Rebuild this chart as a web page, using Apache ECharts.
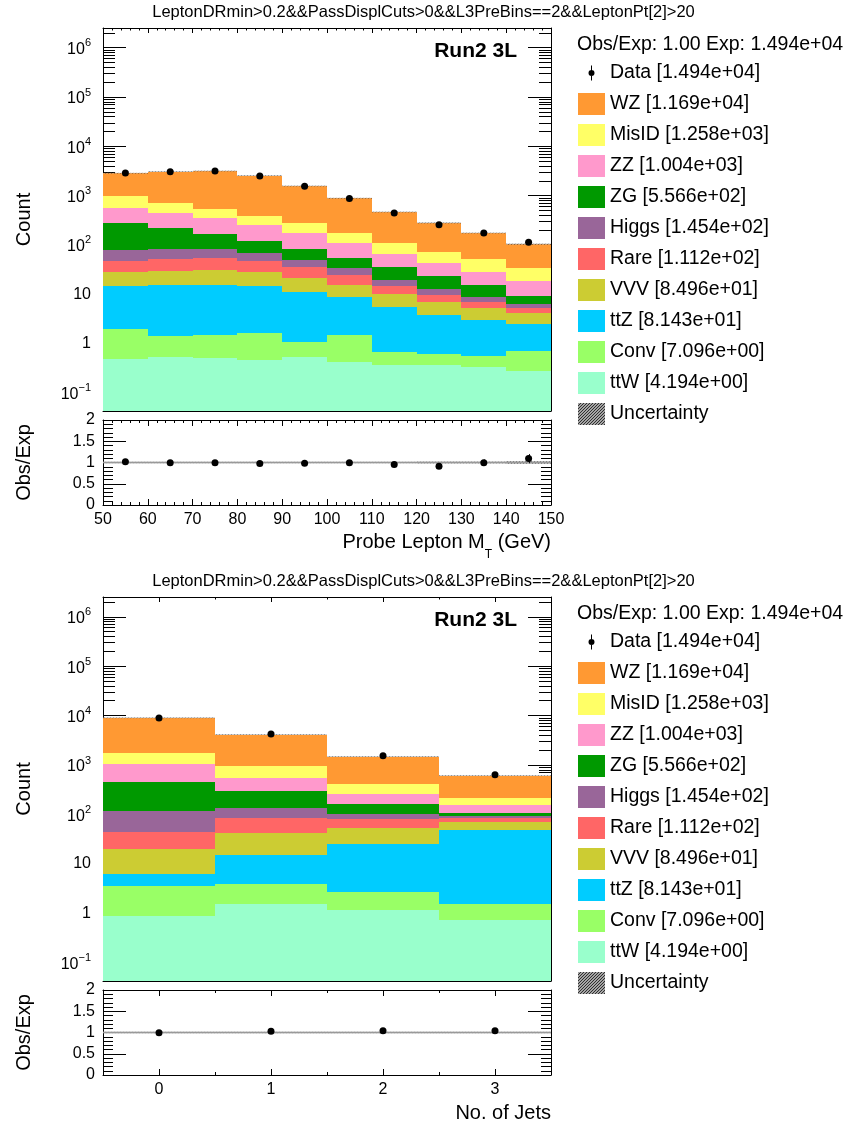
<!DOCTYPE html>
<html><head><meta charset="utf-8">
<script src="https://cdn.jsdelivr.net/npm/echarts@6/dist/echarts.min.js"></script>
<style>html,body{margin:0;padding:0;background:#fff}#c{width:847px;height:1129px}</style>
</head><body><div id="c"></div>
<script>
// ---------------- data ----------------
const cutTitle = 'LeptonDRmin>0.2&&PassDisplCuts>0&&L3PreBins==2&&LeptonPt[2]>20';
const regionLabel = 'Run2 3L';
const obsExpText = 'Obs/Exp: 1.00 Exp: 1.494e+04';
const processNames = ['WZ', 'MisID', 'ZZ', 'ZG', 'Higgs', 'Rare', 'VVV', 'ttZ', 'Conv', 'ttW'];
const processTotals = ['1.169e+04', '1.258e+03', '1.004e+03', '5.566e+02', '1.454e+02', '1.112e+02', '8.496e+01', '8.143e+01', '7.096e+00', '4.194e+00'];
const dataTotal = '1.494e+04';

// Probe lepton MT (GeV), bin edges
const mtEdges = [50, 60, 70, 80, 90, 100, 110, 120, 130, 140, 150];
const mtWZ    = [1854, 2350, 2624, 2161, 1289, 707, 357, 208, 123, 69];
const mtMisID = [432, 269, 193, 128, 106, 66, 43, 29, 23.3, 16.1];
const mtZZ    = [274, 232, 183, 137, 94, 57, 31.5, 20, 13.6, 8.9];
const mtZG    = [199, 139, 87, 52, 34.7, 21.4, 15.4, 10.7, 6.2, 2.9];
const mtHiggs = [32.4, 28.9, 28.4, 21.8, 14.4, 8.6, 4.9, 2.9, 2.0, 1.1];
const mtRare  = [19.8, 22.7, 23.4, 19.8, 13.8, 9.2, 4.8, 2.8, 1.7, 1.2];
const mtVVV   = [13.4, 14.7, 15.5, 13.6, 10.2, 6.7, 4.7, 3.1, 2.2, 1.55];
const mtTTZ   = [13.0, 14.1, 14.2, 13.1, 10.2, 7.3, 4.8, 3.1, 2.5, 1.8];
const mtConv  = [1.48, 0.86, 0.97, 1.20, 0.55, 1.09, 0.30, 0.26, 0.22, 0.43];
const mtTTW   = [0.48, 0.53, 0.50, 0.47, 0.53, 0.43, 0.36, 0.36, 0.34, 0.28];
const mtData  = [2885, 3047, 3145, 2487, 1548, 878, 445, 255, 174, 113];
const mtUncRel = [0.01, 0.01, 0.01, 0.01, 0.01, 0.012, 0.02, 0.025, 0.025, 0.035];
const mtAxisTitle = ['Probe Lepton M', 'T', ' (GeV)'];

// Number of jets, bin edges
const njEdges = [-0.5, 0.5, 1.5, 2.5, 3.5];
const njWZ    = [7254, 3194, 1076, 393];
const njMisID = [691, 397, 152, 66];
const njZZ    = [622, 250, 95, 47];
const njZG    = [333, 162, 59, 12.7];
const njHiggs = [72.5, 52, 19.6, 8.4];
const njRare  = [23.5, 43.3, 29.9, 14.4];
const njVVV   = [13.9, 26.7, 26.9, 22.0];
const njTTZ   = [2.62, 11.05, 23.0, 47.0];
const njConv  = [2.63, 2.29, 1.50, 0.79];
const njTTW   = [0.88, 1.56, 1.15, 0.72];
const njData  = [8944, 4264, 1543, 636];
const njUncRel = [0.01, 0.01, 0.015, 0.02];
const njAxisTitle = 'No. of Jets';

// ---------------- styling ----------------
const FONT = '"Liberation Sans", Arial, Helvetica, sans-serif';
const processColors = ['#ff9933', '#ffff66', '#ff99cc', '#009900', '#996699', '#ff6666', '#cccc33', '#00ccff', '#99ff66', '#99ffcc'];
const Y_MIN = 0.0427, Y_MAX = 2.512e6;

const mtProcs = [mtWZ, mtMisID, mtZZ, mtZG, mtHiggs, mtRare, mtVVV, mtTTZ, mtConv, mtTTW];
const njProcs = [njWZ, njMisID, njZZ, njZG, njHiggs, njRare, njVVV, njTTZ, njConv, njTTW];

const legendName = i => processNames[i] + ' [' + processTotals[i] + ']';
const dataName = 'Data [' + dataTotal + ']';
const uncName = 'Uncertainty';

const hatch = document.createElement('canvas');
hatch.width = 3; hatch.height = 3;
(function () {
  const c = hatch.getContext('2d');
  c.fillStyle = '#d8d8d8'; c.fillRect(0, 0, 3, 3);
  c.strokeStyle = '#262626'; c.lineWidth = 1.1;
  c.beginPath();
  c.moveTo(-1, 4); c.lineTo(4, -1);
  c.moveTo(-1, 1); c.lineTo(1, -1);
  c.moveTo(2, 4); c.lineTo(4, 2);
  c.stroke();
})();
const hatchFill = { image: hatch, repeat: 'repeat' };

function renderBinRect(params, api) {
  const p0 = api.coord([api.value(0), api.value(2)]);
  const p1 = api.coord([api.value(1), api.value(3)]);
  const x0 = Math.round(p0[0]), x1 = Math.round(p1[0]);
  const yb = Math.round(p0[1]), yt = Math.round(p1[1]);
  return { type: 'rect', shape: { x: x0, y: yt, width: x1 - x0, height: Math.max(0, yb - yt) },
           style: { fill: api.visual('color') } };
}
function renderUncMain(params, api) {
  const p0 = api.coord([api.value(0), api.value(2)]);
  const p1 = api.coord([api.value(1), api.value(3)]);
  const x0 = Math.round(p0[0]), x1 = Math.round(p1[0]);
  const h = Math.max(1, p0[1] - p1[1]);
  const yc = (p0[1] + p1[1]) / 2;
  return { type: 'rect', shape: { x: x0, y: yc - h / 2, width: x1 - x0, height: h },
           style: { fill: hatchFill, opacity: 0.5 } };
}
function renderUncRatio(params, api) {
  const p0 = api.coord([api.value(0), api.value(2)]);
  const p1 = api.coord([api.value(1), api.value(3)]);
  const pc = api.coord([api.value(0), 1]);
  const x0 = Math.round(p0[0]), x1 = Math.round(p1[0]);
  const h = Math.max(1.5, p0[1] - p1[1]);
  const yc = (p0[1] + p1[1]) / 2;
  return { type: 'group', children: [
    { type: 'rect', shape: { x: x0, y: yc - h / 2, width: x1 - x0, height: h }, style: { fill: hatchFill, opacity: 0.6 } },
    { type: 'line', shape: { x1: x0, y1: pc[1], x2: x1, y2: pc[1] }, style: { stroke: '#999999', lineWidth: 1.5 } }
  ] };
}
function renderErr(params, api) {
  const a = api.coord([api.value(0), api.value(1) - api.value(2)]);
  const b = api.coord([api.value(0), api.value(1) + api.value(2)]);
  const x = Math.round(a[0]) + 0.5;
  return { type: 'line', shape: { x1: x, y1: a[1], x2: x, y2: b[1] }, style: { stroke: '#000', lineWidth: 1 } };
}

function buildSeries(p, edges, procs, data, unc) {
  const xi = 4 * p, yi = 4 * p;
  const nb = edges.length - 1;
  const centers = [], totals = [];
  for (let b = 0; b < nb; b++) {
    centers.push((edges[b] + edges[b + 1]) / 2);
    let s = 0; procs.forEach(a => { s += a[b]; }); totals.push(s);
  }
  const out = [];
  procs.forEach((arr, k) => {
    const items = [];
    for (let b = 0; b < nb; b++) {
      let below = 0;
      for (let j = k + 1; j < procs.length; j++) below += procs[j][b];
      items.push([edges[b], edges[b + 1], Math.max(below, Y_MIN), below + arr[b]]);
    }
    out.push({ type: 'custom', name: legendName(k), xAxisIndex: xi, yAxisIndex: yi, data: items,
      encode: { x: [0, 1], y: [2, 3] }, itemStyle: { color: processColors[k] }, renderItem: renderBinRect,
      silent: true, z: 2 });
  });
  out.push({ type: 'custom', name: uncName, xAxisIndex: xi, yAxisIndex: yi,
    data: totals.map((t, b) => [edges[b], edges[b + 1], t * (1 - unc[b]), t * (1 + unc[b])]),
    encode: { x: [0, 1], y: [2, 3] }, itemStyle: { color: hatchFill }, renderItem: renderUncMain, silent: true, z: 3 });
  out.push({ type: 'scatter', name: dataName, xAxisIndex: xi, yAxisIndex: yi,
    data: centers.map((c, b) => [c, data[b]]), symbol: 'circle', symbolSize: 7,
    itemStyle: { color: '#000', opacity: 1 }, silent: true, z: 5 });
  // ratio panel
  out.push({ type: 'custom', name: uncName, xAxisIndex: xi + 2, yAxisIndex: yi + 2,
    data: unc.map((u, b) => [edges[b], edges[b + 1], 1 - u, 1 + u]),
    encode: { x: [0, 1], y: [2, 3] }, itemStyle: { color: hatchFill }, renderItem: renderUncRatio, silent: true, z: 2 });
  out.push({ type: 'custom', name: dataName, xAxisIndex: xi + 2, yAxisIndex: yi + 2,
    data: centers.map((c, b) => [c, data[b] / totals[b], Math.sqrt(data[b]) / totals[b]]),
    encode: { x: 0, y: 1 }, itemStyle: { color: '#000' }, renderItem: renderErr, silent: true, z: 4 });
  out.push({ type: 'scatter', name: dataName, xAxisIndex: xi + 2, yAxisIndex: yi + 2,
    data: centers.map((c, b) => [c, data[b] / totals[b]]), symbol: 'circle', symbolSize: 7,
    itemStyle: { color: '#000', opacity: 1 }, silent: true, z: 5 });
  return out;
}

// ---------------- axes ----------------
const lineBlack = { color: '#000', width: 1 };
function xAxisCfg(gridIndex, position, range, tickLen, minorLen, minorSplit, labelShow, extra) {
  return Object.assign({
    type: 'value', gridIndex, position, min: range[0], max: range[1],
    axisLine: { show: true, onZero: false, lineStyle: lineBlack },
    axisTick: { show: true, inside: true, length: tickLen, lineStyle: lineBlack },
    minorTick: { show: true, splitNumber: minorSplit, length: minorLen, lineStyle: lineBlack },
    splitLine: { show: false }, minorSplitLine: { show: false },
    axisLabel: { show: labelShow, fontSize: 16, color: '#000', margin: 7, fontFamily: FONT }
  }, extra || {});
}
function logLabel(v) {
  const e = Math.log10(v), r = Math.round(e);
  if (Math.abs(e - r) > 1e-6) return '';
  if (r === 0) return '{b|1}';
  if (r === 1) return '{b|10}';
  return '{t|10}{s|' + (r < 0 ? '\u2212' + (-r) : r) + '}';
}
const logRich = {
  b: { fontSize: 16, lineHeight: 16, fontFamily: FONT, color: '#000' },
  t: { fontSize: 16, lineHeight: 20, verticalAlign: 'bottom', fontFamily: FONT, color: '#000' },
  s: { fontSize: 11, lineHeight: 11, verticalAlign: 'top', fontFamily: FONT, color: '#000' }
};
function logYAxis(gridIndex, position, labelShow, name) {
  return {
    type: 'log', logBase: 10, gridIndex, position, min: Y_MIN, max: Y_MAX,
    axisLine: { show: true, onZero: false, lineStyle: lineBlack },
    axisTick: { show: true, inside: true, length: 23, lineStyle: lineBlack },
    minorTick: { show: true, splitNumber: 9, length: 12, lineStyle: lineBlack },
    splitLine: { show: false }, minorSplitLine: { show: false },
    axisLabel: { show: labelShow, margin: 12, formatter: logLabel, rich: logRich, fontSize: 16, color: '#000', fontFamily: FONT },
    name: name || '', nameLocation: 'middle', nameGap: 69,
    nameTextStyle: { fontSize: 20, color: '#000', fontFamily: FONT }
  };
}
function ratioYAxis(gridIndex, position, labelShow, name) {
  return {
    type: 'value', gridIndex, position, min: 0, max: 2, interval: 0.5,
    axisLine: { show: true, onZero: false, lineStyle: lineBlack },
    axisTick: { show: true, inside: true, length: 23, lineStyle: lineBlack },
    minorTick: { show: true, splitNumber: 5, length: 10, lineStyle: lineBlack },
    splitLine: { show: false }, minorSplitLine: { show: false },
    axisLabel: { show: labelShow, margin: 8, fontSize: 16, color: '#000', fontFamily: FONT },
    name: name || '', nameLocation: 'middle', nameGap: 69,
    nameTextStyle: { fontSize: 20, color: '#000', fontFamily: FONT }
  };
}
const mtRange = [mtEdges[0], mtEdges[mtEdges.length - 1]];
const njRange = [njEdges[0], njEdges[njEdges.length - 1]];
const intLabel = v => (Math.abs(v - Math.round(v)) < 1e-9 ? String(Math.round(v)) : '');

const njName = {
  name: njAxisTitle, nameLocation: 'end', nameGap: 0,
  nameTextStyle: { align: 'right', verticalAlign: 'top', padding: [28, 0, 0, 0], fontSize: 20, color: '#000', fontFamily: FONT }
};

const xAxes = [
  xAxisCfg(0, 'bottom', mtRange, 5, 2.5, 5, false, { interval: 10 }),
  xAxisCfg(0, 'top', mtRange, 5, 2.5, 5, false, { interval: 10 }),
  xAxisCfg(1, 'bottom', mtRange, 6, 3, 5, true, { interval: 10 }),
  xAxisCfg(1, 'top', mtRange, 6, 3, 5, false, { interval: 10 }),
  xAxisCfg(2, 'bottom', njRange, 5, 2.5, 2, false),
  xAxisCfg(2, 'top', njRange, 5, 2.5, 2, false),
  xAxisCfg(3, 'bottom', njRange, 6, 3, 2, true, njName),
  xAxisCfg(3, 'top', njRange, 6, 3, 2, false)
];
xAxes[6].axisLabel.formatter = intLabel;

const yAxes = [
  logYAxis(0, 'left', true, 'Count'),
  logYAxis(0, 'right', false),
  ratioYAxis(1, 'left', true, 'Obs/Exp'),
  ratioYAxis(1, 'right', false),
  logYAxis(2, 'left', true, 'Count'),
  logYAxis(2, 'right', false),
  ratioYAxis(3, 'left', true, 'Obs/Exp'),
  ratioYAxis(3, 'right', false)
];

const dataIcon = 'path://M0,0M27,22M13,3.5L14,3.5L14,18.5L13,18.5ZM10.5,11A3,3,0,1,1,16.5,11A3,3,0,1,1,10.5,11Z';
function legendCfg(top) {
  return {
    top, left: 578, orient: 'vertical', itemWidth: 27, itemHeight: 22, itemGap: 9, padding: 0,
    icon: 'rect', selectedMode: false,
    textStyle: { fontSize: 19.5, color: '#000', fontFamily: FONT },
    data: [{ name: dataName, icon: dataIcon, itemStyle: { color: '#000' } }]
      .concat(processNames.map((n, i) => ({ name: legendName(i) })))
      .concat([{ name: uncName }])
  };
}
const PANEL_OFFSET = 569;
function titles(off) {
  return [
    { text: cutTitle, left: 'center', top: 4 + off, padding: 0,
      textStyle: { fontSize: 16.5, fontWeight: 'normal', color: '#000', fontFamily: FONT } },
    { text: regionLabel, right: 330, top: 41 + off, padding: 0,
      textStyle: { fontSize: 21, fontWeight: 'bold', color: '#000', fontFamily: FONT } },
    { text: obsExpText, left: 577, top: 35 + off, padding: 0,
      textStyle: { fontSize: 19.5, fontWeight: 'normal', color: '#000', fontFamily: FONT } }
  ];
}
// x-axis title of the MT ratio panel (with subscript T), right-aligned to the frame
const mtTitle = {
  text: '{n|' + mtAxisTitle[0] + '}{s|' + mtAxisTitle[1] + '}{n|' + mtAxisTitle[2] + '}',
  right: 296, top: 532, padding: 0,
  textStyle: { fontSize: 20, color: '#000', fontWeight: 'normal', fontFamily: FONT,
    rich: { n: { fontSize: 20, lineHeight: 20, verticalAlign: 'top', fontFamily: FONT, color: '#000' },
            s: { fontSize: 12, lineHeight: 29, verticalAlign: 'bottom', fontFamily: FONT, color: '#000' } } }
};

const option = {
  animation: false,
  backgroundColor: '#fff',
  textStyle: { fontFamily: FONT },
  title: titles(0).concat(titles(PANEL_OFFSET)).concat([mtTitle]),
  legend: [legendCfg(62), legendCfg(62 + PANEL_OFFSET)],
  grid: [
    { left: 103, top: 28, width: 448, height: 383 },
    { left: 103, top: 420, width: 448, height: 85 },
    { left: 103, top: 597, width: 448, height: 384 },
    { left: 103, top: 990, width: 448, height: 85 }
  ].map(g => Object.assign(g, { show: false, containLabel: false, outerBoundsMode: 'none' })),
  xAxis: xAxes,
  yAxis: yAxes,
  series: buildSeries(0, mtEdges, mtProcs, mtData, mtUncRel)
    .concat(buildSeries(1, njEdges, njProcs, njData, njUncRel))
};

const chart = echarts.init(document.getElementById('c'), null, { renderer: 'canvas' });
chart.setOption(option);
</script>
</body></html>
